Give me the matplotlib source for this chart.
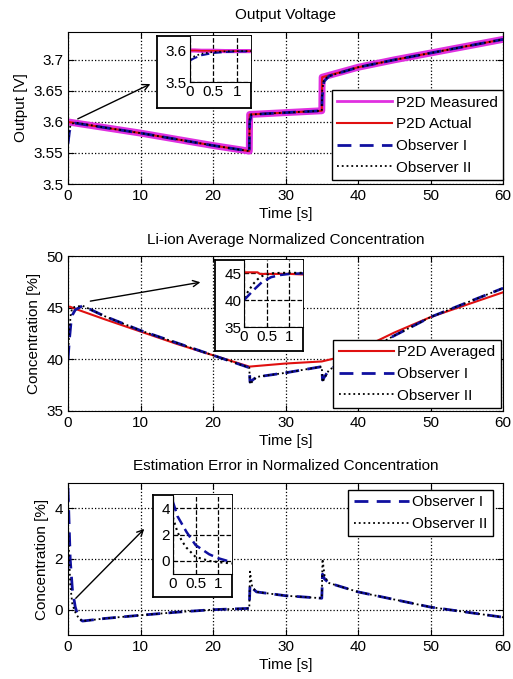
import matplotlib
matplotlib.use("Agg")
import matplotlib.pyplot as plt

plt.rcParams["font.family"] = ["Liberation Sans", "DejaVu Sans"]
plt.rcParams["font.size"] = 11

# ---- panel 1: output voltage ----------------------------------------------
t_v = [0, 5, 10, 15, 20, 25, 25.05, 30, 35, 35.05, 40, 45, 50, 55, 60]
v_meas = [3.600, 3.591, 3.582, 3.572, 3.562, 3.553, 3.612, 3.615, 3.618,
          3.672, 3.688, 3.700, 3.711, 3.722, 3.733]
t_vobs = [0, 0.2, 0.5, 1, 5, 10, 15, 20, 25, 25.05, 25.3, 30, 35, 35.05,
          35.3, 36, 40, 45, 50, 55, 60]
v_obs1 = [3.565, 3.585, 3.594, 3.598, 3.591, 3.582, 3.572, 3.562, 3.553,
          3.600, 3.612, 3.615, 3.618, 3.640, 3.665, 3.674, 3.688, 3.700,
          3.711, 3.722, 3.733]
v_obs2 = [3.568, 3.590, 3.597, 3.599, 3.591, 3.582, 3.572, 3.562, 3.553,
          3.605, 3.612, 3.615, 3.618, 3.650, 3.668, 3.674, 3.688, 3.700,
          3.711, 3.722, 3.733]
ti_v = [0, 0.1, 0.25, 0.5, 0.75, 1.0, 1.3]
vi_act = [3.600, 3.600, 3.599, 3.599, 3.598, 3.598, 3.598]
vi_obs1 = [3.568, 3.576, 3.585, 3.592, 3.595, 3.597, 3.597]
vi_obs2 = [3.572, 3.582, 3.590, 3.595, 3.597, 3.598, 3.598]

# ---- panel 2: average concentration ---------------------------------------
t_c = [0, 0.3, 1, 5, 10, 15, 20, 25, 30, 35, 38, 40, 45, 50, 55, 60]
c_act = [45.1, 45.1, 44.9, 43.9, 42.7, 41.5, 40.4, 39.3, 39.6, 39.8, 40.3,
         40.9, 42.6, 44.1, 45.3, 46.5]
t_cobs = [0, 0.2, 0.4, 0.6, 1, 2, 5, 10, 15, 20, 25, 25.1, 26, 30, 35,
          35.1, 36, 40, 45, 50, 55, 60]
c_obs1 = [40.0, 42.0, 43.5, 44.3, 44.8, 45.2, 44.2, 42.8, 41.6, 40.4, 39.2,
          37.8, 38.3, 38.7, 39.3, 38.0, 39.0, 40.4, 42.3, 44.1, 45.5, 46.9]
c_obs2 = [40.5, 43.0, 44.5, 45.0, 45.1, 45.2, 44.2, 42.8, 41.6, 40.4, 39.2,
          37.6, 38.3, 38.7, 39.3, 37.8, 39.0, 40.4, 42.3, 44.1, 45.5, 46.9]
ti_c = [0, 0.2, 0.3, 0.35, 0.4, 0.6, 0.8, 1.0, 1.3]
ci_act = [45.2, 45.2, 45.2, 44.9, 44.9, 44.9, 44.9, 44.9, 44.8]
ci_obs1 = [40.0, 41.8, 42.6, 43.0, 43.4, 44.3, 44.7, 44.9, 45.0]
ci_obs2 = [40.5, 43.0, 43.9, 44.2, 44.5, 45.0, 45.1, 45.1, 45.1]

# ---- panel 3: estimation error --------------------------------------------
t_e = [0, 0.3, 0.6, 1, 1.5, 2, 5, 10, 15, 20, 25, 25.1, 25.4, 26, 30, 35,
       35.1, 35.4, 36, 40, 45, 50, 55, 60]
e_obs1 = [4.8, 2.0, 0.8, 0.1, -0.35, -0.45, -0.35, -0.22, -0.1, 0.0, 0.05,
          1.0, 0.85, 0.7, 0.55, 0.45, 1.4, 1.2, 1.05, 0.7, 0.4, 0.1, -0.1, -0.3]
e_obs2 = [3.3, 1.0, 0.2, -0.1, -0.35, -0.45, -0.35, -0.22, -0.1, 0.0, 0.05,
          1.5, 0.9, 0.7, 0.55, 0.45, 2.0, 1.3, 1.05, 0.7, 0.4, 0.1, -0.1, -0.3]
ti_e = [0, 0.1, 0.2, 0.3, 0.5, 0.8, 1.0, 1.3]
ei_obs1 = [4.5, 3.4, 2.8, 2.2, 1.2, 0.5, 0.2, -0.1]
ei_obs2 = [3.3, 2.2, 1.5, 1.0, 0.3, 0.0, -0.1, -0.2]

T_TICKS = [0, 10, 20, 30, 40, 50, 60]
MAG = "#e030e0"
RED = "#e01010"
BLUE = "#1010a0"
LEFT, WIDTH = 0.1326, 0.848


def style_main(ax, title):
    ax.tick_params(direction="in", top=True, right=True, length=4)
    ax.grid(True, ls=":", color="k", lw=0.9)
    ax.set_xlim(0, 60)
    ax.set_xticks(T_TICKS)
    ax.set_xlabel("Time [s]", fontsize=11, labelpad=3)
    ax.set_title(title, fontsize=11, pad=9)


def add_legend(ax, loc, anchor):
    leg = ax.legend(loc=loc, bbox_to_anchor=anchor, fontsize=11,
                    handlelength=3.6, handletextpad=0.25, labelspacing=0.5,
                    borderpad=0.35, fancybox=False, edgecolor="k",
                    framealpha=1, borderaxespad=0)
    leg.get_frame().set_linewidth(1.0)
    return leg


def make_inset(fig, box, inner):
    b = fig.add_axes(box)
    b.set_xticks([]); b.set_yticks([])
    for s in b.spines.values():
        s.set_linewidth(1.3)
    a = fig.add_axes(inner)
    a.tick_params(direction="in", length=3, pad=2, labelsize=11)
    a.grid(True, ls="--", color="k", lw=0.9)
    a.set_xlim(0, 1.3)
    a.set_xticks([0, 0.5, 1])
    a.set_xticklabels(["0", "0.5", "1"])
    for s in ["top", "right"]:
        a.spines[s].set_visible(False)
    return a


fig = plt.figure(figsize=(5.13, 6.79), dpi=100)

# panel 1
ax1 = fig.add_axes([LEFT, 0.729, WIDTH, 0.224])
ax1.plot(t_v, v_meas, color=MAG, lw=5, label="P2D Measured")
ax1.plot(t_v, v_meas, color=RED, lw=1.5, label="P2D Actual")
ax1.plot(t_vobs, v_obs1, color=BLUE, lw=2, ls=(0, (5, 3)), label="Observer I")
ax1.plot(t_vobs, v_obs2, color="k", lw=1.3, ls=":", label="Observer II")
ax1.set_ylim(3.5, 3.745)
ax1.set_yticks([3.5, 3.55, 3.6, 3.65, 3.7])
ax1.set_yticklabels(["3.5", "3.55", "3.6", "3.65", "3.7"])
ax1.set_ylabel("Output [V]", fontsize=11)
style_main(ax1, "Output Voltage")
leg1 = add_legend(ax1, "lower right", (1.0, 0.026))
leg1.get_lines()[0].set_linewidth(2)
ax1.annotate("", xy=(0.298, 0.878), xycoords="figure fraction",
             xytext=(1, 3.603), textcoords="data", annotation_clip=False,
             arrowprops=dict(arrowstyle="->", lw=1, color="k"))
i1 = make_inset(fig, [0.306, 0.841, 0.183, 0.106], [0.370, 0.879, 0.119, 0.0677])
i1.plot(ti_v, vi_act, color=MAG, lw=3)
i1.plot(ti_v, vi_act, color=RED, lw=1.2)
i1.plot(ti_v, vi_obs1, color=BLUE, lw=1.5, ls=(0, (4, 2)))
i1.plot(ti_v, vi_obs2, color="k", lw=1.2, ls=":")
i1.set_ylim(3.5, 3.645)
i1.set_yticks([3.5, 3.6])
i1.set_yticklabels(["3.5", "3.6"])

# panel 2
ax2 = fig.add_axes([LEFT, 0.3947, WIDTH, 0.228])
ax2.plot(t_c, c_act, color=RED, lw=1.5, label="P2D Averaged")
ax2.plot(t_cobs, c_obs1, color=BLUE, lw=2, ls=(0, (5, 3)), label="Observer I")
ax2.plot(t_cobs, c_obs2, color="k", lw=1.3, ls=":", label="Observer II")
ax2.set_ylim(35, 50)
ax2.set_yticks([35, 40, 45, 50])
ax2.set_ylabel("Concentration [%]", fontsize=11)
style_main(ax2, "Li-ion Average Normalized Concentration")
add_legend(ax2, "lower right", (0.995, 0.019))
ax2.annotate("", xy=(0.396, 0.585), xycoords="figure fraction",
             xytext=(2.7, 45.6), textcoords="data", annotation_clip=False,
             arrowprops=dict(arrowstyle="->", lw=1, color="k"))
i2 = make_inset(fig, [0.419, 0.483, 0.1715, 0.134], [0.4756, 0.5184, 0.115, 0.0987])
i2.plot(ti_c, ci_act, color=RED, lw=1.5)
i2.plot(ti_c, ci_obs1, color=BLUE, lw=1.8, ls=(0, (4, 2)))
i2.plot(ti_c, ci_obs2, color="k", lw=1.5, ls=":")
i2.set_ylim(35, 47.5)
i2.set_yticks([35, 40, 45])

# panel 3
ax3 = fig.add_axes([LEFT, 0.0648, WIDTH, 0.224])
ax3.plot(t_e, e_obs1, color=BLUE, lw=2, ls=(0, (5, 3)), label="Observer I")
ax3.plot(t_e, e_obs2, color="k", lw=1.3, ls=":", label="Observer II")
ax3.set_ylim(-1, 5)
ax3.set_yticks([0, 2, 4])
ax3.set_ylabel("Concentration [%]", fontsize=11)
style_main(ax3, "Estimation Error in Normalized Concentration")
add_legend(ax3, "upper right", (0.977, 0.954))
ax3.annotate("", xy=(0.285, 0.224), xycoords="figure fraction",
             xytext=(0.8, 0.37), textcoords="data", annotation_clip=False,
             arrowprops=dict(arrowstyle="->", lw=1, color="k"))
i3 = make_inset(fig, [0.298, 0.1208, 0.154, 0.150], [0.337, 0.1546, 0.115, 0.1163])
i3.plot(ti_e, ei_obs1, color=BLUE, lw=1.8, ls=(0, (4, 2)))
i3.plot(ti_e, ei_obs2, color="k", lw=1.5, ls=":")
i3.set_ylim(-1, 5)
i3.set_yticks([0, 2, 4])

fig.savefig("out.png", dpi=100)
